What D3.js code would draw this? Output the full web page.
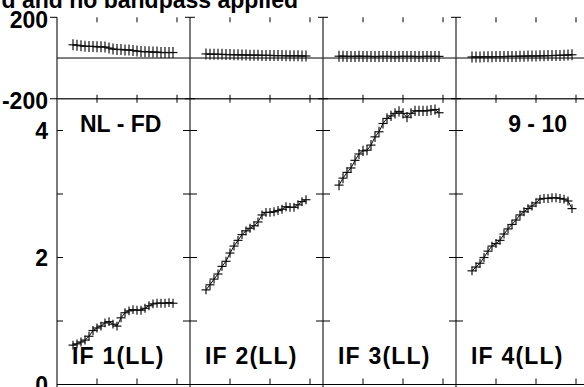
<!DOCTYPE html>
<html><head><meta charset="utf-8">
<script src="https://cdn.jsdelivr.net/npm/d3@7"></script>
<style>
body{margin:0;background:#fff}
svg{display:block}
text{font-family:"Liberation Sans",Arial,Helvetica,sans-serif;font-weight:bold;font-size:23px;fill:#000}
</style>
</head><body>
<svg id="c" width="584" height="387"></svg>
<script>
// ---------------- data ----------------
const title = "d and no bandpass applied";
const ifLabels = ["IF 1(LL)", "IF 2(LL)", "IF 3(LL)", "IF 4(LL)"];
const baselineLabel = "NL - FD";
const timeLabel = "9 - 10";
const channels = [4,5,6,7,8,9,10,11,12,13,14,15,16,17,18,19,20,21,22,23,24,25,26,27,28,29];
const xTicks = [10, 20, 30];
const ampTicks = [0, 1, 2, 3, 4];
const ampTickLabels = [0, 2, 4];
const phaseTicks = [-200, 200];
const phaseTickLabels = [200, -200];

const ampIF1 = [0.62,0.64,0.67,0.70,0.76,0.85,0.89,0.92,0.97,0.99,0.95,0.92,1.05,1.13,1.16,1.18,1.17,1.17,1.20,1.24,1.27,1.28,1.28,1.28,1.29,1.28];
const ampIF2 = [1.49,1.57,1.66,1.74,1.86,1.94,2.07,2.18,2.27,2.36,2.42,2.46,2.50,2.56,2.67,2.71,2.71,2.72,2.74,2.76,2.80,2.79,2.79,2.83,2.88,2.91];
const ampIF3 = [3.14,3.25,3.34,3.41,3.53,3.63,3.68,3.69,3.77,3.90,3.98,4.11,4.19,4.23,4.27,4.30,4.27,4.21,4.27,4.31,4.31,4.31,4.31,4.32,4.33,4.28];
const ampIF4 = [1.79,1.85,1.91,2.00,2.10,2.18,2.22,2.27,2.37,2.45,2.52,2.59,2.67,2.72,2.77,2.81,2.86,2.92,2.93,2.93,2.94,2.94,2.93,2.92,2.89,2.77];

const phIF1 = [65,63,60,58,57,57,55,55,54,49,44,42,42,40,40,37,34,32,31,31,29,29,27,27,27,27];
const phIF2 = [20,19,19,18,18,17,17,16,16,15,15,14,14,14,13,13,13,12,12,12,11,11,11,11,10,10];
const phIF3 = [9,9,8,8,8,9,8,8,8,7,8,8,8,8,7,8,8,8,8,8,7,8,8,8,8,8];
const phIF4 = [5,5,5,6,6,6,7,7,7,8,8,8,9,9,10,10,10,11,11,12,12,13,13,14,15,16];

const ampErr = [0.07, 0.07, 0.08, 0.07];
const phErr = [27, 27, 27, 27];

// ---------------- build ----------------
const amps = [ampIF1, ampIF2, ampIF3, ampIF4];
const phases = [phIF1, phIF2, phIF3, phIF4];

const W = 584, H = 387;
const svg = d3.select("#c");

const panel = d3.scaleBand().domain([0,1,2,3]).range([57, 57 + 133*4]).paddingInner(0).paddingOuter(0);
const xch = d3.scaleLinear().domain([0, 33.25]).range([0, panel.bandwidth()]);
const yPh = d3.scaleLinear().domain([-200, 200]).range([98.75, 17.3]);
const yAmp = d3.scaleLinear().domain([0, 4.5]).range([384.5, 98.75]);

const g = svg.append("g");
const ln = (x1,y1,x2,y2,c="#000",w=1) => g.append("line").attr("x1",x1).attr("y1",y1).attr("x2",x2).attr("y2",y2).attr("stroke",c).attr("stroke-width",w);

// frame lines
const right = W;
ln(panel(0), yPh(0), right, yPh(0));
ln(panel(0), yPh(-200), right, yPh(-200), "#333", 1.3);
ln(panel(0), yAmp(0), right, yAmp(0));
for (let p = 0; p < 4; p++) {
  ln(panel(p), yPh(200), panel(p), H, "#222", 1.2);
}

// ticks
for (let p = 0; p < 4; p++) {
  const x = panel(p);
  ampTicks.forEach(t => {
    const y = yAmp(t);
    if (p === 0) ln(x, y, x + 6, y); else ln(x - 7, y, x + 7, y);
  });
  phaseTicks.forEach(t => {
    const y = yPh(t);
    if (p === 0) ln(x - 7, y, x, y); else ln(x - 5, y, x + 5, y);
  });
  xTicks.forEach(t => {
    const xx = x + xch(t);
    ln(xx, yPh(200), xx, yPh(200) + 5);
    ln(xx, yPh(-200) - 4, xx, yPh(-200) + 4);
    ln(xx, yAmp(0) - 6, xx, yAmp(0));
  });
}

// axis labels
const txt = (s, x, y, anchor) => g.append("text").attr("x", x).attr("y", y).attr("text-anchor", anchor).text(s);
phaseTickLabels.forEach(t => txt(String(t), 48, yPh(t) + 10.5, "end"));
ampTickLabels.forEach(t => txt(String(t), 48, yAmp(t) + 8.5, "end"));

// title
txt(title, 298, 7.5, "end");

// panel labels
txt(baselineLabel, panel(0) + 23, 132, "start");
txt(timeLabel, panel(3) + panel.bandwidth() - 22, 132, "end");
ifLabels.forEach((s, p) => txt(s, panel(p) + 15, 364, "start").attr("letter-spacing", 1.2));

// data
const line = d3.line();
for (let p = 0; p < 4; p++) {
  const x0 = panel(p);
  const ptsA = channels.map((c, i) => [x0 + xch(c), yAmp(amps[p][i])]);
  const ptsP = channels.map((c, i) => [x0 + xch(c), yPh(phases[p][i])]);
  g.append("path").attr("d", line(ptsA)).attr("fill","none").attr("stroke","#000").attr("stroke-width",1);
  g.append("path").attr("d", line(ptsP)).attr("fill","none").attr("stroke","#000").attr("stroke-width",1);
  channels.forEach((c, i) => {
    const x = x0 + xch(c);
    const a = amps[p][i], e = ampErr[p];
    ln(x - 4.5, yAmp(a), x + 4.5, yAmp(a), "#111", 1.2);
    ln(x, yAmp(a - e), x, yAmp(a + e), "#111", 1.2);
    const ph = phases[p][i], pe = phErr[p];
    ln(x - 4.5, yPh(ph), x + 4.5, yPh(ph), "#111", 1.2);
    ln(x, yPh(ph - pe), x, yPh(ph + pe), "#111", 1.2);
  });
}
</script>
</body></html>
